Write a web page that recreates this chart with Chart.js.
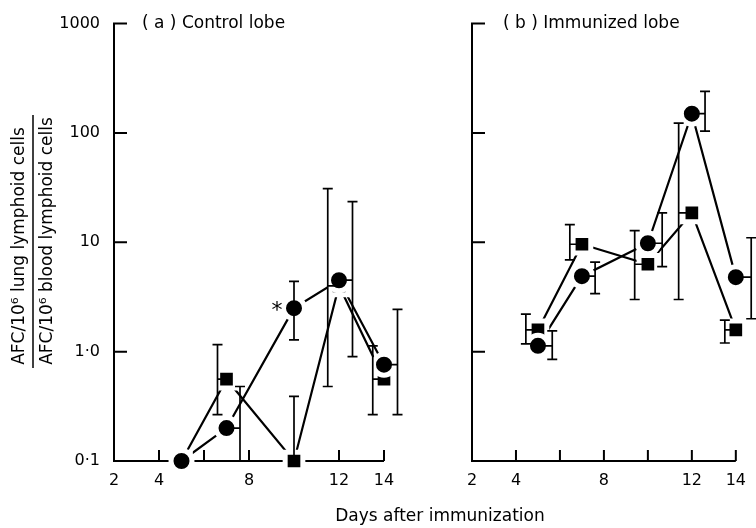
<!DOCTYPE html>
<html><head><meta charset="utf-8">
<script src="https://cdn.jsdelivr.net/npm/chart.js@4.4.1/dist/chart.umd.min.js"></script>
<style>
html,body{margin:0;padding:0;background:#fff;overflow:hidden;width:756px;height:528px}
canvas{position:absolute;left:0;top:0}
</style></head><body>
<canvas id="a" width="756" height="528"></canvas>
<canvas id="b" width="756" height="528"></canvas>
<script>
// ---- data ----
const days = [5, 7, 10, 12, 14];
const xTickValues = [2, 4, 6, 8, 10, 12, 14];
const xTickLabels = ['2', '4', '', '8', '', '12', '14'];
const yTickValues = [0.1, 1, 10, 100, 1000];
const yTickLabels = ['0·1', '1·0', '10', '100', '1000'];

// (a) Control lobe
const ctrlCircle      = [0.1, 0.2, 2.5, 4.5, 0.76];
const ctrlCircleLo    = [null, 0.1, 1.28, 0.9, 0.265];
const ctrlCircleHi    = [null, 0.48, 4.4, 23.5, 2.44];
const ctrlCircleErrDay= [null, 7.6, 10, 12.6, 14.6];
const ctrlSquare      = [0.1, 0.56, 0.1, 4.0, 0.56];
const ctrlSquareLo    = [null, 0.265, null, 0.48, 0.265];
const ctrlSquareHi    = [null, 1.16, 0.39, 31, 1.13];
const ctrlSquareErrDay= [null, 6.6, 10, 11.5, 13.5];

// (b) Immunized lobe
const immCircle       = [1.13, 4.9, 9.8, 150, 4.8];
const immCircleLo     = [0.85, 3.4, 6.0, 104, 2.0];
const immCircleHi     = [1.55, 6.6, 18.6, 240, 11];
const immCircleErrDay = [5.65, 7.6, 10.65, 12.6, 14.7];
const immSquare       = [1.58, 9.6, 6.3, 18.6, 1.58];
const immSquareLo     = [1.18, 6.9, 3.0, 3.0, 1.2];
const immSquareHi     = [2.2, 14.5, 12.8, 123, 1.94];
const immSquareErrDay = [4.45, 6.45, 9.4, 11.4, 13.5];

const FONT = "'DejaVu Sans', sans-serif";

function pts(vals) { return days.map((d, i) => ({x: d, y: vals[i]})); }

function drawErr(ctx, xs, ys, v, lo, hi, ex) {
  ctx.beginPath();
  for (let i = 0; i < days.length; i++) {
    if (hi[i] == null) continue;
    const px = xs.getPixelForValue(days[i]);
    const py = ys.getPixelForValue(v[i]);
    const bx = xs.getPixelForValue(ex[i]);
    const top = ys.getPixelForValue(hi[i]);
    const lowV = lo[i] == null ? v[i] : lo[i];
    const bot = ys.getPixelForValue(lowV);
    ctx.moveTo(bx, top); ctx.lineTo(bx, bot);
    ctx.moveTo(bx - 5, top); ctx.lineTo(bx + 5, top);
    if (lo[i] != null && lo[i] > 0.1) { ctx.moveTo(bx - 5, bot); ctx.lineTo(bx + 5, bot); }
    if (Math.abs(bx - px) > 1) { ctx.moveTo(px, py); ctx.lineTo(bx, py); }
  }
  ctx.stroke();
}

function buildPanel(id, cfg) {
  const lineDs = vals => ({data: pts(vals), showLine: true, borderColor: '#000', borderWidth: 2.2,
    pointRadius: 0, pointHoverRadius: 0, order: 2, clip: false, tension: 0});
  const markDs = (vals, style, r) => ({data: pts(vals), showLine: false, pointStyle: style,
    pointRadius: r, pointHoverRadius: r, pointBackgroundColor: '#000', pointBorderColor: '#fff',
    pointBorderWidth: 5, pointHoverBorderWidth: 5, order: 1, clip: false});
  const plugin = {
    id: 'panel_' + id,
    beforeDatasetsDraw(chart) {
      const {ctx, chartArea: a, scales: {x, y}} = chart;
      ctx.save();
      ctx.strokeStyle = '#000'; ctx.lineWidth = 2;
      ctx.beginPath();
      ctx.moveTo(a.left, a.top); ctx.lineTo(a.left, a.bottom); ctx.lineTo(a.right, a.bottom);
      yTickValues.slice(1).forEach(v => { const p = y.getPixelForValue(v); ctx.moveTo(a.left - 1, p); ctx.lineTo(a.left + 13, p); });
      xTickValues.slice(1).forEach(v => { const p = x.getPixelForValue(v); ctx.moveTo(p, a.bottom); ctx.lineTo(p, a.bottom - 11); });
      ctx.stroke();
      ctx.restore();
    },
    afterDatasetsDraw(chart) {
      const {ctx, chartArea: a, scales: {x, y}} = chart;
      ctx.save();
      ctx.strokeStyle = '#000'; ctx.lineWidth = 1.7;
      drawErr(ctx, x, y, cfg.circle, cfg.circleLo, cfg.circleHi, cfg.circleErr);
      drawErr(ctx, x, y, cfg.square, cfg.squareLo, cfg.squareHi, cfg.squareErr);
      ctx.fillStyle = '#000';
      ctx.font = '17px ' + FONT;
      ctx.textAlign = 'left'; ctx.textBaseline = 'middle';
      ctx.fillText(cfg.title, a.left + cfg.titleOffset, a.top);
      if (cfg.star) {
        ctx.font = '22px ' + FONT;
        ctx.textAlign = 'center';
        ctx.fillText('*', x.getPixelForValue(days[2]) - 17, y.getPixelForValue(cfg.circle[2]) + 3);
      }
      if (cfg.axisTitles) {
        ctx.font = '17px ' + FONT;
        ctx.textAlign = 'center'; ctx.textBaseline = 'middle';
        ctx.fillText('Days after immunization', 440, 517);
        ctx.save(); ctx.translate(20, 246); ctx.rotate(-Math.PI / 2);
        ctx.fillText('AFC/10\u2076 lung lymphoid cells', 0, 0); ctx.restore();
        ctx.save(); ctx.translate(48, 241); ctx.rotate(-Math.PI / 2);
        ctx.fillText('AFC/10\u2076 blood lymphoid cells', 0, 0); ctx.restore();
        ctx.lineWidth = 1.5;
        ctx.beginPath(); ctx.moveTo(33, 115); ctx.lineTo(33, 368); ctx.stroke();
      }
      ctx.restore();
    }
  };
  return new Chart(document.getElementById(id), {
    type: 'line',
    data: {datasets: [lineDs(cfg.square), lineDs(cfg.circle), markDs(cfg.circle, 'circle', 10.5), markDs(cfg.square, 'rect', 12.5)]},
    options: {
      responsive: false, animation: false, events: [], devicePixelRatio: 1,
      layout: {padding: {top: 17, right: 756 - cfg.areaRight, left: 0, bottom: 0}},
      plugins: {legend: {display: false}, tooltip: {enabled: false}},
      scales: {
        x: {type: 'linear', min: 2, max: 14,
          afterBuildTicks: s => { s.ticks = xTickValues.map(v => ({value: v})); },
          afterFit: s => { s.height = 528 - 461; },
          grid: {display: false, drawTicks: false}, border: {display: false},
          ticks: {padding: 10, color: '#000', font: {family: FONT, size: 16}, maxRotation: 0, autoSkip: false,
            callback: v => { const i = xTickValues.indexOf(v); return i >= 0 ? xTickLabels[i] : ''; }}},
        y: {type: 'logarithmic', min: 0.1, max: 1000,
          afterBuildTicks: s => { s.ticks = yTickValues.map(v => ({value: v})); },
          afterFit: s => { s.width = cfg.areaLeft; },
          grid: {display: false, drawTicks: false}, border: {display: false},
          ticks: {padding: 14, color: '#000', font: {family: FONT, size: 16}, autoSkip: false,
            callback: v => { if (!cfg.yLabels) return ''; const i = yTickValues.findIndex(t => Math.abs(t - v) < 1e-9); return i >= 0 ? yTickLabels[i] : ''; }}}
      }
    },
    plugins: [plugin]
  });
}

buildPanel('a', {
  title: '( a ) Control lobe', titleOffset: 28, areaLeft: 114, areaRight: 384, yLabels: true, star: true, axisTitles: true,
  circle: ctrlCircle, circleLo: ctrlCircleLo, circleHi: ctrlCircleHi, circleErr: ctrlCircleErrDay,
  square: ctrlSquare, squareLo: ctrlSquareLo, squareHi: ctrlSquareHi, squareErr: ctrlSquareErrDay
});
buildPanel('b', {
  title: '( b ) Immunized lobe', titleOffset: 31, areaLeft: 472, areaRight: 744, yLabels: false, star: false, axisTitles: false,
  circle: immCircle, circleLo: immCircleLo, circleHi: immCircleHi, circleErr: immCircleErrDay,
  square: immSquare, squareLo: immSquareLo, squareHi: immSquareHi, squareErr: immSquareErrDay
});
</script>
</body></html>
